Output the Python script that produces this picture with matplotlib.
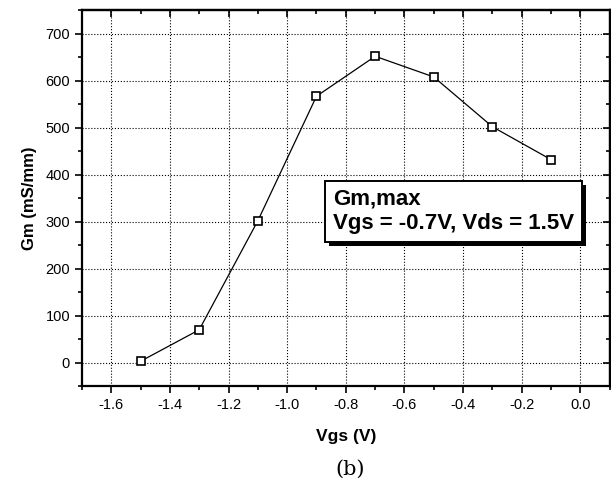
import matplotlib
matplotlib.use("Agg")
import matplotlib.pyplot as plt
from matplotlib.ticker import MultipleLocator
import matplotlib.patheffects as pe

# Gm vs Vgs data
vgs = [-1.5, -1.3, -1.1, -0.9, -0.7, -0.5, -0.3, -0.1]
gm = [3, 70, 302, 567, 652, 608, 502, 432]

plt.rcParams['font.family'] = ['Liberation Sans', 'DejaVu Sans']

fig = plt.figure(figsize=(6.11, 4.87), dpi=100)
ax = fig.add_axes([0.134, 0.207, 0.864, 0.772])

ax.plot(vgs, gm, '-', color='black', linewidth=0.9, zorder=3)
ax.plot(vgs, gm, 's', markersize=6, markerfacecolor='white',
        markeredgecolor='black', markeredgewidth=1.2, zorder=4)

ax.set_xlim(-1.7, 0.1)
ax.set_ylim(-50, 750)
ax.xaxis.set_major_locator(MultipleLocator(0.2))
ax.xaxis.set_minor_locator(MultipleLocator(0.1))
ax.yaxis.set_major_locator(MultipleLocator(100))
ax.yaxis.set_minor_locator(MultipleLocator(50))
ax.set_xticks([-1.6, -1.4, -1.2, -1.0, -0.8, -0.6, -0.4, -0.2, 0.0])
ax.set_xticklabels(['-1.6', '-1.4', '-1.2', '-1.0', '-0.8', '-0.6', '-0.4', '-0.2', '0.0'])
ax.set_yticks([0, 100, 200, 300, 400, 500, 600, 700])

ax.grid(True, which='major', linestyle=':', color='black', linewidth=0.8)
ax.tick_params(which='both', direction='out', top=False, right=False,
               labelsize=10.5, width=1.2)
ax.tick_params(which='major', length=5)
ax.tick_params(which='minor', length=3)

# inward ticks on top and right
ax2 = ax.secondary_xaxis('top')
ax2.xaxis.set_major_locator(MultipleLocator(0.2))
ax2.xaxis.set_minor_locator(MultipleLocator(0.1))
ax2.tick_params(which='both', direction='in', labeltop=False, width=1.2)
ax2.tick_params(which='major', length=5)
ax2.tick_params(which='minor', length=3)
ax3 = ax.secondary_yaxis('right')
ax3.yaxis.set_major_locator(MultipleLocator(100))
ax3.yaxis.set_minor_locator(MultipleLocator(50))
ax3.tick_params(which='both', direction='in', labelright=False, width=1.2)
ax3.tick_params(which='major', length=5)
ax3.tick_params(which='minor', length=3)

for s in ax.spines.values():
    s.set_linewidth(1.6)
ax2.spines['top'].set_linewidth(1.6)
ax3.spines['right'].set_linewidth(1.6)

ax.set_xlabel('Vgs (V)', fontsize=12.5, fontweight='bold', labelpad=12)
ax.set_ylabel('Gm (mS/mm)', fontsize=12, fontweight='bold', labelpad=6)

ax.text(0.475, 0.465, 'Gm,max\nVgs = -0.7V, Vds = 1.5V', transform=ax.transAxes,
        fontsize=16, fontweight='bold', va='center', ha='left', linespacing=1.25,
        bbox=dict(boxstyle='square,pad=0.35', facecolor='white',
                  edgecolor='black', linewidth=1.4,
                  path_effects=[pe.withSimplePatchShadow(offset=(3, -3),
                                                         shadow_rgbFace='black',
                                                         alpha=1)]),
        zorder=5)

fig.text(0.573, 0.025, '(b)', fontsize=15, family='DejaVu Serif', ha='center')

fig.savefig('out.png', dpi=100)
